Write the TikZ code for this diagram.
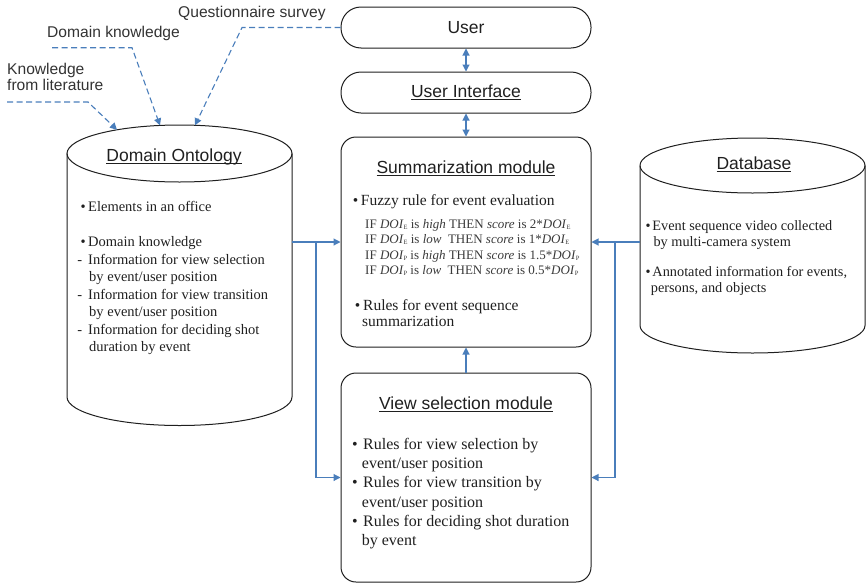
\documentclass[tikz,border=0pt]{standalone}
\usepackage{fontspec}
\setmainfont{Liberation Serif}
\newfontfamily\headsans{Liberation Sans}
\usetikzlibrary{arrows.meta}
\definecolor{linkblue}{HTML}{4A7EBB}
\definecolor{inkgray}{HTML}{1F1F1F}
\definecolor{labelgray}{HTML}{333333}
\definecolor{rulegray}{HTML}{3A3A3A}
% underline drawn close to the baseline, through descenders
\newsavebox\ulbox
\newcommand\titleul[1]{\sbox\ulbox{#1}\rlap{\rule[-2.8pt]{\wd\ulbox}{1.1pt}}\usebox\ulbox}
\newcommand\bul[1][0pt]{\llap{\textbullet\hspace{#1}}}
\newcommand\dsh{\llap{-\hspace{6pt}}}
% small subscript used in the DOI rules
\newcommand\idx[1]{\raisebox{-1.2pt}{\fontsize{6.5}{6.5}\selectfont #1}}

\begin{document}
\begin{tikzpicture}[x=1pt,y=-1pt,
  shapeline/.style={draw=inkgray, line width=1pt},
  pill/.style={shapeline, rounded corners=20pt, minimum width=250pt, minimum height=41pt,
    inner sep=0pt, font=\headsans\fontsize{17.5}{21}\selectfont, text=inkgray},
  module/.style={shapeline, rounded corners=15pt, minimum width=250pt, inner sep=0pt},
  title/.style={anchor=base, inner sep=0pt, font=\headsans\fontsize{17.5}{21}\selectfont, text=inkgray},
  tag/.style={inner sep=0pt, font=\headsans\fontsize{15.6}{16.7}\selectfont, text=labelgray, align=left},
  body/.style={inner sep=0pt, anchor=north west, align=left, text=inkgray},
  hull/.style={inner sep=0pt, outer sep=0pt},
  link/.style={draw=linkblue, line width=1.1pt, -{Triangle[length=7pt,width=7pt]}},
  twoway/.style={link, {Triangle[length=7pt,width=7pt]}-{Triangle[length=7pt,width=7pt]}},
  dashlink/.style={link, dash pattern=on 6pt off 3.5pt}
]
\useasboundingbox (0,0) rectangle (866,584);

% ---------- user side ----------
\node[pill] (user) at (466,27.5) {User};
\node[pill] (ui) at (466,92.5) {\titleul{User Interface}};

% ---------- modules ----------
\node[module, minimum height=210pt] (summ) at (466,242) {};
\node[title] (summtitle) at (466,173.5) {\titleul{Summarization module}};
\node[body, anchor=base west, font=\fontsize{15.5}{16.7}\selectfont] (fuzzy) at (360.7,205.3)
  {\bul[2.5pt]Fuzzy rule for event evaluation};
\node[body, font=\fontsize{13}{15.4}\selectfont, text=rulegray] (rules) at (365,219.1)
  {IF \textit{DOI}\idx{E} is \textit{high} THEN \textit{score} is 2*\textit{DOI}\idx{E}\\
   IF \textit{DOI}\idx{E} is \textit{low}\ \ THEN \textit{score} is 1*\textit{DOI}\idx{E}\\
   IF \textit{DOI}\idx{P} is \textit{high} THEN \textit{score} is 1.5*\textit{DOI}\idx{P}\\
   IF \textit{DOI}\idx{P} is \textit{low}\ \ THEN \textit{score} is 0.5*\textit{DOI}\idx{P}};
\node[body, font=\fontsize{15.5}{16.7}\selectfont] (seqrules) at (363,299)
  {\bul[2.8pt]Rules for event sequence\\\hspace{-1pt}summarization};

\node[module, minimum height=209pt] (view) at (466,477.5) {};
\node[title] (viewtitle) at (466,409) {\titleul{View selection module}};
\node[body, font=\fontsize{16}{19.3}\selectfont] (viewrules) at (363,437.8)
  {\bul[5.5pt]Rules for view selection by\\
   \hspace{-1.3pt}event/user position\\
   \bul[5.5pt]Rules for view transition by\\
   \hspace{-1.3pt}event/user position\\
   \bul[5.5pt]Rules for deciding shot duration\\
   \hspace{-1.3pt}by event};

% ---------- domain ontology cylinder ----------
\draw[shapeline] (179.5,153.5) ellipse [x radius=112.5, y radius=28.5];
\draw[shapeline] (67,153.5) -- (67,397)
  arc [start angle=180, end angle=0, x radius=112.5, y radius=28.5] -- (292,153.5);
\node[hull, minimum width=225pt, minimum height=243.5pt] (onto) at (179.5,275.25) {};
\node[title] (ontotitle) at (174,161) {\titleul{Domain Ontology}};
\node[body, font=\fontsize{14.5}{17.5}\selectfont] (ontotext) at (88,201.4)
  {\bul[2.5pt]Elements in an office\\[17.5pt]
   \bul[2.5pt]Domain knowledge\\
   \dsh Information for view selection\\
   \hspace{1pt}by event/user position\\
   \dsh Information for view transition\\
   \hspace{1pt}by event/user position\\
   \dsh Information for deciding shot\\
   \hspace{1pt}duration by event};

% ---------- database cylinder ----------
\draw[shapeline] (752.5,165.5) ellipse [x radius=112.5, y radius=27.5];
\draw[shapeline] (640,165.5) -- (640,325.5)
  arc [start angle=180, end angle=0, x radius=112.5, y radius=27.5] -- (865,165.5);
\node[hull, minimum width=225pt, minimum height=160pt] (dbody) at (752.5,245.5) {};
\node[title] (dbtitle) at (754,169) {\titleul{Database}};
\node[body, font=\fontsize{14.3}{16}\selectfont] (dbtext) at (652.3,220.2)
  {\bul[2pt]Event sequence video collected\\
   \hspace{1pt}by multi-camera system\\[14.6pt]
   \bul[2pt]Annotated information for events,\\
   \hspace{-1.6pt}persons, and objects};

% ---------- knowledge sources ----------
\node[tag, anchor=base west] (qlabel) at (178,17.5) {Questionnaire survey};
\node[tag, anchor=base west] (dklabel) at (47,37.3) {Domain knowledge};
\node[tag, anchor=north west] (kllabel) at (7,62.7) {Knowledge\\from literature};

\coordinate (qbend) at (242,27.5);
\coordinate (qtip) at (195,125.3);
\coordinate (dkstart) at (52,47.7);
\coordinate (dkbend) at (132,47.7);
\coordinate (dktip) at (160,125.4);
\coordinate (klstart) at (7,102);
\coordinate (klbend) at (88,102);
\coordinate (kltip) at (117,129.8);

\draw[dashlink] (user.west) -- (qbend) -- (qtip);
\draw[dashlink] (dkstart) -- (dkbend) -- (dktip);
\draw[dashlink] (klstart) -- (klbend) -- (kltip);

% ---------- data flow ----------
\draw[twoway] (user) -- (ui);
\draw[twoway] (ui) -- (summ);
\draw[link] (view) -- (summ);

\coordinate (ljoin) at (316,242);
\coordinate (rjoin) at (615,242);
\draw[link] (onto.east |- summ.west) -- (summ.west);
\draw[link] (ljoin) |- (view.west);
\draw[link] (dbody.west |- summ.east) -- (summ.east);
\draw[link] (rjoin) |- (view.east);
\end{tikzpicture}
\end{document}
